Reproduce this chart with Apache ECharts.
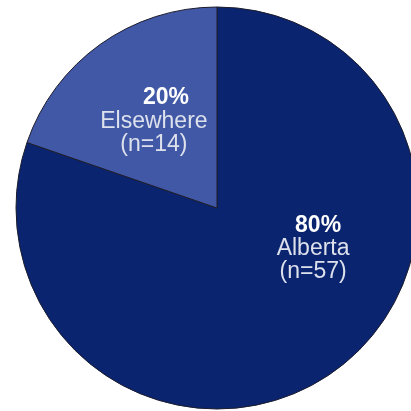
<!DOCTYPE html>
<html>
<head>
<meta charset="utf-8">
<script src="https://cdn.jsdelivr.net/npm/echarts@6/dist/echarts.min.js"></script>
<style>html,body{margin:0;padding:0;background:#fff}#c{width:411px;height:411px}</style>
</head>
<body>
<div id="c"></div>
<script>
const categories = ['Alberta', 'Elsewhere'];
const counts = [57, 14];
const colors = ['#0a2470', '#4158a6'];

const chart = echarts.init(document.getElementById('c'), null, {renderer: 'canvas'});
const labelShift = [[36, -44], [-3, -3]];
const pctPad = [10, 24];

chart.setOption({
  animation: false,
  series: [{
    type: 'pie',
    center: [217, 208],
    radius: 201,
    startAngle: 90,
    clockwise: true,
    percentPrecision: 0,
    data: categories.map((name, i) => ({
      name, value: counts[i],
      itemStyle: {color: colors[i]}
    })),
    itemStyle: {borderColor: '#1c1c2c', borderWidth: 1},
    label: {
      show: true,
      position: 'inside',
      align: 'center',
      formatter: p => '{p' + p.dataIndex + '|' + p.percent + '%}\n{n|' + p.name + '}\n{n|(n=' + p.value + ')}',
      rich: {
        p0: {fontFamily: 'Liberation Sans', fontSize: 23, fontWeight: 'bold', color: '#ffffff', lineHeight: 23, padding: [0, 0, 0, pctPad[0]]},
        p1: {fontFamily: 'Liberation Sans', fontSize: 23, fontWeight: 'bold', color: '#ffffff', lineHeight: 24, padding: [0, 0, 0, pctPad[1]]},
        n: {fontFamily: 'Liberation Sans', fontSize: 23, color: '#dde1ec', lineHeight: 23}
      }
    },
    labelLine: {show: false},
    labelLayout: p => ({dx: labelShift[p.dataIndex][0], dy: labelShift[p.dataIndex][1]}),
    emphasis: {disabled: true}
  }]
});
</script>
</body>
</html>
